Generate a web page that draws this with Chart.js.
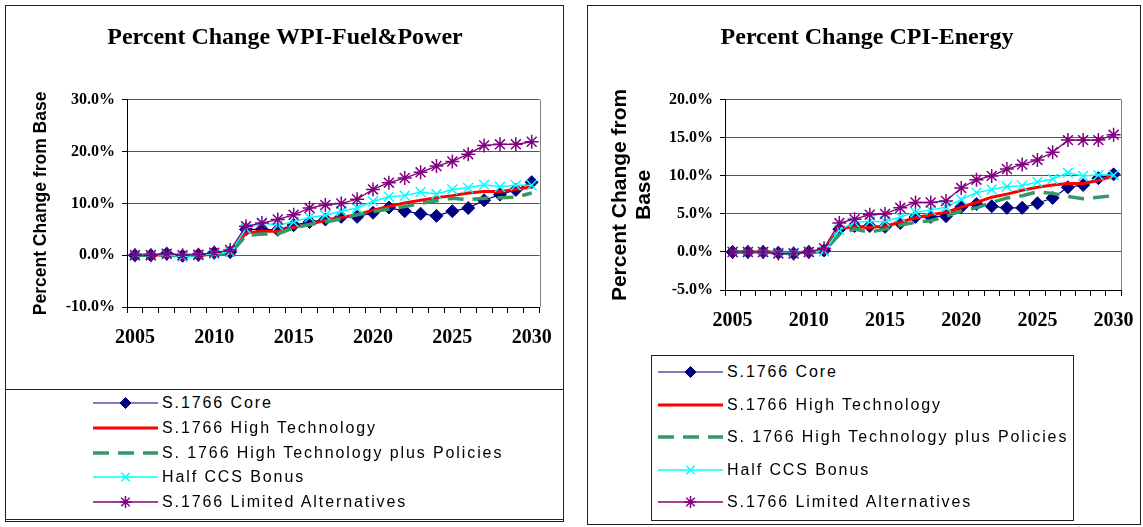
<!DOCTYPE html>
<html>
<head>
<meta charset="utf-8">
<script src="https://cdn.jsdelivr.net/npm/chart.js"></script>
<style>
  body { margin: 0; background: #fff; width: 1143px; height: 527px; overflow: hidden; position: relative; }
  .box { position: absolute; box-sizing: border-box; border: 1.5px solid #222; }
  canvas.plot { position: absolute; }
  .row { position: absolute; height: 20px; display: flex; align-items: center; }
  .row span { font-family: "Liberation Sans", Arial, sans-serif; font-size: 16px; letter-spacing: 1.9px; color: #000; white-space: nowrap; margin-left: 4px; }
</style>
</head>
<body>
<div class="box" style="left:5px; top:5px; width:559px; height:517px;"></div>
<div class="box" style="left:5px; top:389px; width:559px; height:131px;"></div>
<canvas class="plot" id="wpiChart" width="560" height="384" style="left:5px; top:5px;"></canvas>

<div class="box" style="left:587px; top:5px; width:554px; height:520px;"></div>
<div class="box" style="left:651px; top:355px; width:423px; height:166px;"></div>
<canvas class="plot" id="cpiChart" width="560" height="350" style="left:587px; top:5px;"></canvas>

<script>
// categories
const years = [2005, 2006, 2007, 2008, 2009, 2010, 2011, 2012, 2013, 2014, 2015, 2016, 2017,
               2018, 2019, 2020, 2021, 2022, 2023, 2024, 2025, 2026, 2027, 2028, 2029, 2030];

const seriesNames = ['S.1766 Core', 'S.1766 High Technology', 'S. 1766 High Technology plus Policies',
                     'Half CCS Bonus', 'S.1766 Limited Alternatives'];

// WPI - Fuel & Power, percent change from base
const wpiCore     = [0, 0, 0.3, -0.1, 0.1, 0.5, 0.6, 5.0, 5.0, 4.9, 5.8, 6.4, 6.9, 7.4, 7.4, 8.2, 9.2, 8.5, 8.0, 7.6, 8.5, 9.1, 10.6, 11.7, 12.6, 14.1];
const wpiHighTech = [0, 0, 0.1, 0, 0, 0.2, 0.3, 4.3, 4.6, 4.6, 5.4, 6.0, 6.7, 7.3, 7.8, 8.7, 9.4, 10.1, 10.6, 11.1, 11.5, 12.0, 12.3, 12.3, 12.7, 13.2];
const wpiPolicies = [0, 0, 0, -0.1, 0, 0.2, 0.3, 3.8, 4.1, 4.1, 5.3, 5.9, 6.4, 7.0, 7.8, 8.4, 8.9, 9.4, 10.0, 10.5, 11.0, 10.7, 11.0, 11.1, 11.2, 12.0];
const wpiHalfCcs  = [0, 0, 0.2, -0.3, 0, 0.3, 0.6, 5.1, 6.2, 5.8, 6.4, 7.3, 7.7, 8.5, 9.1, 10.4, 11.3, 11.5, 12.2, 11.8, 12.7, 13.0, 13.6, 13.2, 13.5, 13.5];
const wpiLimited  = [0, 0, 0.3, 0, 0.1, 0.5, 1.0, 5.6, 6.2, 6.9, 7.8, 9.1, 9.7, 10.0, 10.8, 12.7, 14.0, 14.9, 16.0, 17.2, 18.1, 19.5, 21.2, 21.4, 21.4, 21.9];

// CPI - Energy, percent change from base
const cpiCore     = [0, 0, 0, -0.1, -0.2, 0, 0.2, 3.0, 3.4, 3.4, 3.3, 3.8, 4.6, 4.6, 4.7, 5.9, 6.3, 6.0, 5.8, 5.8, 6.4, 7.1, 8.5, 8.8, 9.7, 10.2];
const cpiHighTech = [0, 0, 0, 0, -0.1, 0, 0.1, 3.1, 3.3, 3.2, 3.4, 3.9, 4.5, 4.9, 5.2, 5.9, 6.5, 7.2, 7.6, 8.1, 8.5, 8.8, 9.0, 9.0, 9.4, 10.0];
const cpiPolicies = [0, 0, 0, -0.1, -0.2, -0.1, 0.1, 2.3, 3.0, 2.6, 3.0, 3.5, 3.9, 4.1, 4.7, 5.4, 5.8, 6.5, 7.1, 7.4, 7.9, 7.7, 7.3, 7.0, 7.2, 7.4];
const cpiHalfCcs  = [0, 0, 0, -0.1, -0.1, 0, 0.1, 2.9, 3.9, 4.0, 4.0, 4.6, 5.2, 5.5, 5.9, 6.9, 7.8, 8.2, 8.6, 8.7, 9.2, 9.6, 10.4, 10.0, 10.1, 10.1];
const cpiLimited  = [0, 0, 0, -0.2, -0.2, 0, 0.5, 3.8, 4.3, 4.9, 5.0, 5.8, 6.5, 6.5, 6.7, 8.4, 9.5, 10.0, 10.9, 11.5, 12.1, 13.1, 14.7, 14.7, 14.7, 15.4];

// axis ranges
const wpiTicks = [-10, 0, 10, 20, 30];
const cpiTicks = [-5, 0, 5, 10, 15, 20];

// line / marker look of each series (same order as seriesNames)
const seriesStyles = [
    { color: '#000080', width: 1.2, dash: [], marker: 'rectRot', radius: 6.5 },
    { color: '#ff0000', width: 3, dash: [], marker: false, radius: 0 },
    { color: '#339966', width: 3.5, dash: [16, 9], marker: false, radius: 0 },
    { color: '#00ffff', width: 1.5, dash: [], marker: 'crossRot', radius: 7 },
    { color: '#800080', width: 1.3, dash: [], marker: 'star', radius: 7 }
];

const serif = "'Liberation Serif', 'Times New Roman', serif";
const sans = "'Liberation Sans', Arial, sans-serif";

// grey right edge of the plot area, like the Excel frame
const plotFrame = {
    id: 'plotFrame',
    beforeDatasetsDraw(chart) {
        const { ctx, chartArea: a } = chart;
        ctx.save();
        ctx.strokeStyle = '#808080';
        ctx.lineWidth = 1;
        ctx.beginPath();
        ctx.moveTo(Math.round(a.right) + 0.5, a.top);
        ctx.lineTo(Math.round(a.right) + 0.5, a.bottom);
        ctx.stroke();
        ctx.restore();
    }
};

function buildDatasets(seriesValues) {
    return seriesValues.map((values, i) => {
        const s = seriesStyles[i];
        return {
            label: seriesNames[i],
            data: values,
            borderColor: s.color,
            backgroundColor: s.color,
            borderWidth: s.width,
            borderDash: s.dash,
            pointStyle: s.marker,
            pointRadius: s.radius,
            pointBorderWidth: s.marker === 'rectRot' ? 1 : 1.5,
            pointBorderColor: s.color,
            pointBackgroundColor: s.color,
            tension: 0,
            order: seriesValues.length - i   // first series at the bottom, as in Excel
        };
    });
}

function makeChart(id, opts) {
    const ctx = document.getElementById(id).getContext('2d');
    return new Chart(ctx, {
        type: 'line',
        data: { labels: years, datasets: buildDatasets(opts.series) },
        plugins: [plotFrame],
        options: {
            responsive: false,
            animation: false,
            events: [],
            layout: { padding: 0 },
            plugins: {
                legend: { display: false },
                tooltip: { enabled: false },
                title: {
                    display: true,
                    text: opts.title,
                    color: '#000',
                    font: { family: serif, size: 24, weight: 'bold' },
                    padding: { top: 18, bottom: 48 }
                }
            },
            scales: {
                x: {
                    offset: true,
                    afterFit: (scale) => { scale.height = opts.xHeight; },
                    grid: { drawOnChartArea: false, drawTicks: true, tickLength: 6, color: '#000', offset: true },
                    border: { display: true, color: '#000', width: 1 },
                    ticks: {
                        autoSkip: false,
                        maxRotation: 0,
                        padding: 13,
                        color: '#000',
                        font: { family: serif, size: 20, weight: 'bold' },
                        callback: (val, idx) => (years[idx] % 5 === 0 ? String(years[idx]) : '')
                    }
                },
                y: {
                    min: opts.ticks[0],
                    max: opts.ticks[opts.ticks.length - 1],
                    afterFit: (scale) => { scale.width = opts.yWidth; },
                    afterBuildTicks: (scale) => { scale.ticks = opts.ticks.map(v => ({ value: v })); },
                    grid: { color: '#555', lineWidth: 1, tickLength: 5, tickColor: '#000' },
                    border: { display: true, color: '#000', width: 1 },
                    ticks: {
                        padding: 7,
                        color: '#000',
                        font: { family: serif, size: 16, weight: 'bold' },
                        callback: (v) => v.toFixed(1) + '%'
                    },
                    title: {
                        display: true,
                        text: opts.yTitle,
                        color: '#000',
                        font: { family: sans, size: opts.yTitleSize, weight: 'bold', lineHeight: 1.15 },
                        padding: { top: opts.yTitlePad, bottom: 0 }
                    }
                },
                // empty strip on the right so the title centres on the whole panel
                gap: {
                    position: 'right',
                    display: true,
                    afterFit: (scale) => { scale.width = opts.rightGap; },
                    grid: { display: false, drawTicks: false },
                    border: { display: false },
                    ticks: { display: false }
                }
            }
        }
    });
}

makeChart('wpiChart', {
    title: 'Percent Change WPI-Fuel&Power',
    yTitle: 'Percent Change from Base',
    yTitleSize: 17.5,
    yTitlePad: 26,
    series: [wpiCore, wpiHighTech, wpiPolicies, wpiHalfCcs, wpiLimited],
    ticks: wpiTicks,
    yWidth: 122,
    xHeight: 82,
    rightGap: 16
});

makeChart('cpiChart', {
    title: 'Percent Change CPI-Energy',
    yTitle: ['Percent Change from', 'Base'],
    yTitleSize: 21,
    yTitlePad: 21,
    series: [cpiCore, cpiHighTech, cpiPolicies, cpiHalfCcs, cpiLimited],
    ticks: cpiTicks,
    yWidth: 138,
    xHeight: 65,
    rightGap: 20
});

// legends: a line sample with its marker in the middle, then the series name
function drawSample(canvas, s) {
    const c = canvas.getContext('2d');
    const mid = canvas.height / 2;
    c.strokeStyle = s.color;
    c.fillStyle = s.color;
    c.lineWidth = s.width;
    c.setLineDash(s.dash);
    c.beginPath();
    c.moveTo(0, mid);
    c.lineTo(canvas.width, mid);
    c.stroke();
    c.setLineDash([]);
    if (s.marker && Chart.helpers && Chart.helpers.drawPoint) {
        c.lineWidth = s.marker === 'rectRot' ? 1 : 1.5;
        Chart.helpers.drawPoint(c, { pointStyle: s.marker, radius: s.radius * 0.85, borderWidth: c.lineWidth, rotation: 0 },
            canvas.width / 2, mid);
    }
}

function makeLegend(x, y0, step, sampleWidth) {
    seriesNames.forEach((name, i) => {
        const row = document.createElement('div');
        row.className = 'row';
        row.style.left = x + 'px';
        row.style.top = (y0 + i * step - 10) + 'px';
        const cv = document.createElement('canvas');
        cv.width = sampleWidth;
        cv.height = 16;
        drawSample(cv, seriesStyles[i]);
        const label = document.createElement('span');
        label.textContent = name;
        row.appendChild(cv);
        row.appendChild(label);
        document.body.appendChild(row);
    });
}

makeLegend(93, 403, 24.75, 65);
makeLegend(658, 372, 32.5, 65);
</script>
</body>
</html>
